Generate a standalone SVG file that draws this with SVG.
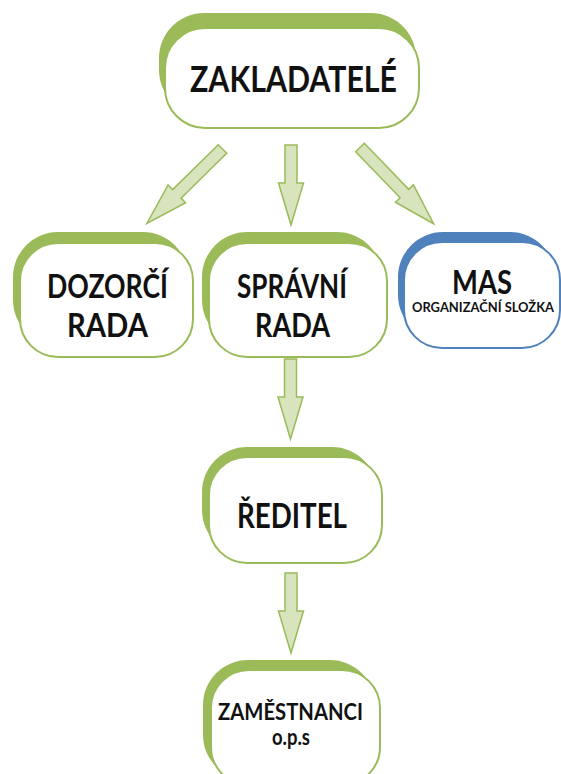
<svg xmlns="http://www.w3.org/2000/svg" width="561" height="774" viewBox="0 0 561 774">
<defs>
<style>
.g{fill:#9bbb59}
.b{fill:#4f81bd}
.wg{fill:#fff;stroke:#9bbb59;stroke-width:2}
.wb{fill:#fff;stroke:#4f81bd;stroke-width:2}
.t{font-family:Lato,"Open Sans","Liberation Sans",sans-serif;font-weight:bold;fill:#111;text-anchor:middle}
.arr{fill:#d7e4bd;stroke:#9bbb59;stroke-width:1.5;stroke-linejoin:miter}
</style>
<path id="av" d="M-6,0 H6 V38 H12.5 L0,80 L-12.5,38 H-6 Z"/>
<path id="ad" d="M-6,0 H6 V64 H12.5 L0,106 L-12.5,64 H-6 Z"/>
</defs>
<rect width="561" height="774" fill="#fff"/>
<g id="connectors">
<use href="#ad" class="arr" transform="translate(222.5,149) rotate(45.5)"/>
<use href="#av" class="arr" transform="translate(291,145)"/>
<use href="#ad" class="arr" transform="translate(360,147.5) rotate(-44)"/>
<use href="#av" class="arr" transform="translate(290.5,359)"/>
<use href="#av" class="arr" transform="translate(291,573)"/>
</g>
<g id="zakladatele">
<rect class="g" x="159" y="13" width="257" height="102" rx="45"/>
<rect class="wg" x="165" y="28" width="254" height="100" rx="40"/>
<text class="t" x="293.5" y="92" font-size="37" textLength="207" lengthAdjust="spacingAndGlyphs">ZAKLADATELÉ</text>
</g>
<g id="dozorci">
<rect class="g" x="13" y="232" width="175" height="113" rx="45"/>
<rect class="wg" x="20" y="243" width="173" height="114" rx="38"/>
<text class="t" x="107.5" y="298" font-size="33" textLength="121" lengthAdjust="spacingAndGlyphs">DOZORČÍ</text>
<text class="t" x="107.5" y="337" font-size="33" textLength="81" lengthAdjust="spacingAndGlyphs">RADA</text>
</g>
<g id="spravni">
<rect class="g" x="202" y="232" width="180" height="113" rx="45"/>
<rect class="wg" x="209" y="243" width="178" height="114" rx="38"/>
<text class="t" x="292" y="298" font-size="33" textLength="110" lengthAdjust="spacingAndGlyphs">SPRÁVNÍ</text>
<text class="t" x="292.5" y="337" font-size="33" textLength="75" lengthAdjust="spacingAndGlyphs">RADA</text>
</g>
<g id="mas">
<rect class="b" x="398" y="232" width="157" height="108" rx="45"/>
<rect class="wb" x="404" y="242" width="156" height="106" rx="38"/>
<text class="t" x="482" y="294" font-size="32" textLength="60" lengthAdjust="spacingAndGlyphs">MAS</text>
<text class="t" x="483" y="312" font-size="13" textLength="142" lengthAdjust="spacingAndGlyphs">ORGANIZAČNÍ SLOŽKA</text>
</g>
<g id="reditel">
<rect class="g" x="202" y="447" width="175" height="108" rx="45"/>
<rect class="wg" x="209" y="457" width="173" height="106" rx="38"/>
<text class="t" x="292" y="528" font-size="35" textLength="110" lengthAdjust="spacingAndGlyphs">ŘEDITEL</text>
</g>
<g id="zamestnanci">
<rect class="g" x="203" y="660" width="172" height="120" rx="45"/>
<rect class="wg" x="211" y="670" width="169" height="115" rx="38"/>
<text class="t" x="290.5" y="720" font-size="23" textLength="145" lengthAdjust="spacingAndGlyphs">ZAMĚSTNANCI</text>
<text class="t" x="291" y="745" font-size="22" textLength="38" lengthAdjust="spacingAndGlyphs">o.p.s</text>
</g>
</svg>
